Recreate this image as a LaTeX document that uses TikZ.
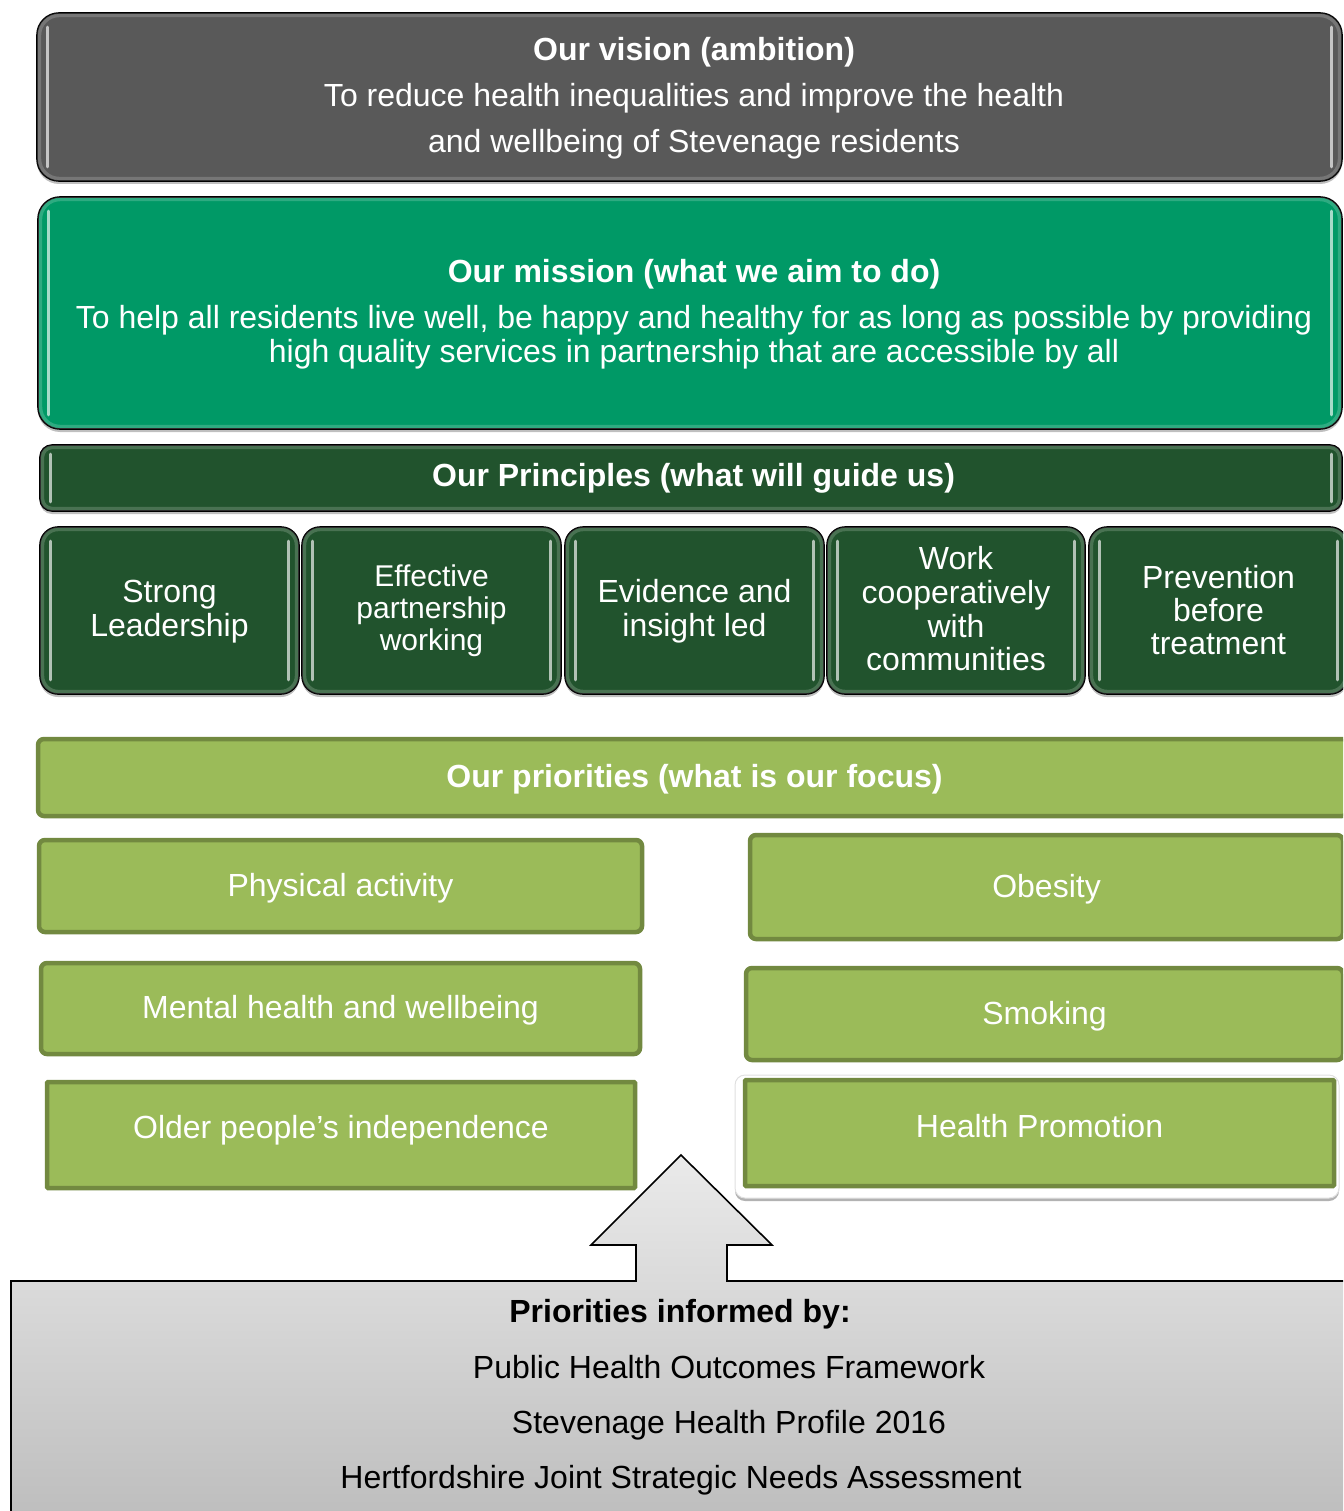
\documentclass[tikz,border=0pt]{standalone}
\usepackage{fontspec}
\setmainfont{Liberation Sans}
\usetikzlibrary{shadows}
\definecolor{visgray}{RGB}{89,89,89}
\definecolor{missgreen}{RGB}{0,153,102}
\definecolor{princgreen}{RGB}{33,83,45}
\definecolor{prigreen}{RGB}{155,187,89}
\definecolor{priedge}{RGB}{114,137,64}
\definecolor{basetop}{RGB}{234,234,234}
\definecolor{basebot}{RGB}{188,188,188}
\newcommand{\padtop}[2]{\raisebox{0pt}[\dimexpr\height+#1\relax][\depth]{#2}}
\newcommand{\padbot}[2]{\raisebox{0pt}[\height][\dimexpr\depth+#1\relax]{#2}}
\tikzset{
  darkbox/.style={draw=black, line width=1.6pt, rounded corners=#1, inner sep=0pt,
    text=white, align=center,
    drop shadow={shadow xshift=0pt, shadow yshift=-3pt, opacity=.25, fill=black}},
  pribox/.style={draw=priedge, line width=4.5pt, rounded corners=#1, fill=prigreen,
    inner sep=0pt, text=white, align=center, font=\fontsize{32}{34}\selectfont,
    text height=23pt, text depth=3pt},
  hl/.style={draw=white, line width=3pt, opacity=.65, line cap=round},
  bevel/.style={draw=white, line width=4pt, opacity=.18},
  basetext/.style={text=black, inner sep=0pt, font=\fontsize{32}{34}\selectfont},
}
\begin{document}
\begin{tikzpicture}[x=1pt,y=-1pt]
\useasboundingbox (0,0) rectangle (1343,1511);
\clip (0,0) rectangle (1343,1511);

% Vision
\node[darkbox=22pt, fill=visgray, minimum width=1305pt, minimum height=168pt,
  font=\fontsize{32}{46}\selectfont] (vision) at (689.5,97)
  {\hspace*{9pt}\begin{tabular}{@{}c@{}}\textbf{Our vision (ambition)}\\To reduce health inequalities and improve the health\\and wellbeing of Stevenage residents\end{tabular}};

% Mission
\node[darkbox=22pt, fill=missgreen, minimum width=1304pt, minimum height=232pt,
  font=\fontsize{32}{34}\selectfont] (mission) at (690,313)
  {\hspace*{8pt}\padtop{6pt}{\begin{tabular}{@{}c@{}}\textbf{Our mission (what we aim to do)}\\[12pt]To help all residents live well, be happy and healthy for as long as possible by providing\\high quality services in partnership that are accessible by all\end{tabular}}};

% Principles header
\node[darkbox=12pt, fill=princgreen, minimum width=1302pt, minimum height=66pt,
  font=\fontsize{32}{34}\selectfont\bfseries] (princ) at (691,478)
  {\hspace*{5pt}Our Principles (what will guide us)};

% Principle boxes
\node[darkbox=18pt, fill=princgreen, minimum width=259pt, minimum height=167pt,
  font=\fontsize{32}{34}\selectfont] (b1) at (169.5,610.5) {\padtop{4pt}{\begin{tabular}{@{}c@{}}Strong\\Leadership\end{tabular}}};
\node[darkbox=18pt, fill=princgreen, minimum width=259pt, minimum height=167pt,
  font=\fontsize{30}{32}\selectfont] (b2) at (431.5,610.5) {Effective\\partnership\\working};
\node[darkbox=18pt, fill=princgreen, minimum width=259pt, minimum height=167pt,
  font=\fontsize{32}{34}\selectfont] (b3) at (694.5,610.5) {\padtop{4pt}{\begin{tabular}{@{}c@{}}Evidence and\\insight led\end{tabular}}};
\node[darkbox=18pt, fill=princgreen, minimum width=258pt, minimum height=167pt,
  font=\fontsize{32}{33.7}\selectfont] (b4) at (956,610.5) {\padtop{6pt}{\begin{tabular}{@{}c@{}}Work\\cooperatively\\with\\communities\end{tabular}}};
\node[darkbox=18pt, fill=princgreen, minimum width=259pt, minimum height=167pt,
  font=\fontsize{32}{33}\selectfont] (b5) at (1218.5,610.5) {Prevention\\before\\treatment};

% gloss on dark boxes
\foreach \n/\r/\v in {vision/20/15, mission/20/15, princ/10/10, b1/16/15, b2/16/15, b3/16/15, b4/16/15, b5/16/15}{
  \draw[bevel, rounded corners=\r pt] ([shift={(3pt,-3pt)}]\n.north west) rectangle ([shift={(-3pt,3pt)}]\n.south east);
  \draw[hl] ([shift={(11pt,-\v pt)}]\n.north west) -- ([shift={(11pt,\v pt)}]\n.south west);
  \draw[hl] ([shift={(-11pt,-\v pt)}]\n.north east) -- ([shift={(-11pt,\v pt)}]\n.south east);
}

% Priorities
\node[pribox=6pt, minimum width=1310pt, minimum height=77pt,
  font=\fontsize{32}{34}\selectfont\bfseries] (prio) at (693,777.5)
  {\hspace*{3pt}Our priorities (what is our focus)};
\node[pribox=6pt, minimum width=603pt, minimum height=92pt] (phys) at (340.5,886) {Physical activity};
\node[pribox=6pt, minimum width=599pt, minimum height=91pt] (ment) at (340.5,1008.5) {Mental health and wellbeing};
\node[pribox=1pt, minimum width=588pt, minimum height=106pt] (older) at (341,1135) {\raisebox{7pt}{Older people’s independence}};
\node[pribox=6pt, minimum width=593pt, minimum height=104pt] (obes) at (1046.5,887) {Obesity};
\node[pribox=6pt, minimum width=597pt, minimum height=92pt] (smok) at (1044.5,1014) {Smoking};
\fill[white, draw=black!12, line width=1pt, rounded corners=10pt,
  drop shadow={shadow xshift=0pt, shadow yshift=-3pt, opacity=.3, fill=black}]
  (735,1075) rectangle (1339,1198);
\node[pribox=1pt, minimum width=589pt, minimum height=106pt] (hprom) at (1039.5,1133) {\raisebox{6pt}{Health Promotion}};

% Arrow and base box
\draw[line width=1.6pt, line join=miter, top color=basetop, bottom color=basebot]
  (636,1281) -- (636,1245) -- (591,1245) -- (681,1155) -- (772,1245) -- (727,1245)
  -- (727,1281) -- (1360,1281) -- (1360,1530) -- (11,1530) -- (11,1281) -- cycle;

\node[basetext, font=\fontsize{32}{34}\selectfont\bfseries] (inf) at (680,1314) {Priorities informed by:};
\node[basetext] (phof) at (729,1367) {Public Health Outcomes Framework};
\node[basetext] (shp) at (729,1425) {Stevenage Health Profile 2016};
\node[basetext] (jsna) at (681,1480) {Hertfordshire Joint Strategic Needs Assessment};
\end{tikzpicture}
\end{document}
